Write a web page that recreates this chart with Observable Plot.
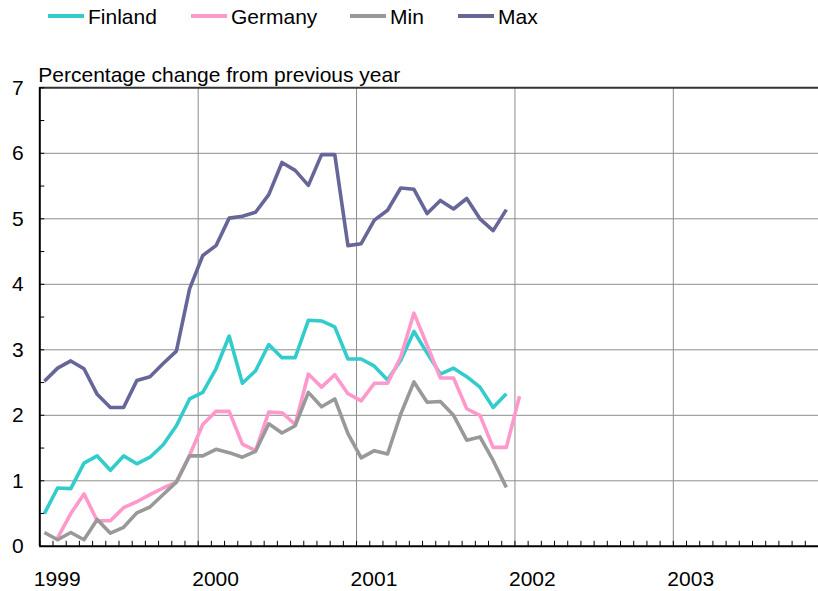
<!DOCTYPE html>
<html>
<head>
<meta charset="utf-8">
<script src="https://cdn.jsdelivr.net/npm/d3@7"></script>
<script src="https://cdn.jsdelivr.net/npm/@observablehq/plot@0.6"></script>
<style>
  body { margin: 0; background: #fff; font-family: "Liberation Sans", Arial, sans-serif; }
  #legend { position: relative; height: 36px; width: 818px; }
  .item { position: absolute; top: 0; height: 34px; display: flex; align-items: center; font-size: 21px; color: #000; white-space: nowrap; }
  .sw { width: 36px; height: 4px; margin-right: 4px; position: relative; top: -1px; }
  #chart svg { display: block; }
</style>
</head>
<body>
<div id="legend"></div>
<div id="chart"></div>
<script>
// ---- data (monthly, starting January 1999) ----
const series = ["Finland", "Germany", "Min", "Max"];
const colors = ["#33CCCC", "#FF99CC", "#999999", "#666699"];
const subtitle = "Percentage change from previous year";
const yearLabels = ["1999", "2000", "2001", "2002", "2003"];

const finland = [0.50, 0.89, 0.88, 1.27, 1.38, 1.16, 1.38, 1.26, 1.36, 1.55, 1.84, 2.25,
                 2.35, 2.71, 3.21, 2.49, 2.68, 3.08, 2.88, 2.88, 3.45, 3.44, 3.35, 2.86,
                 2.86, 2.75, 2.54, 2.84, 3.28, 2.95, 2.63, 2.72, 2.59, 2.43, 2.12, 2.33];
const germany = [null, 0.13, 0.50, 0.80, 0.39, 0.39, 0.59, 0.68, 0.79, 0.89, 0.98, 1.39,
                 1.86, 2.06, 2.06, 1.56, 1.46, 2.05, 2.04, 1.86, 2.63, 2.43, 2.62, 2.33,
                 2.22, 2.49, 2.49, 2.89, 3.56, 3.07, 2.57, 2.57, 2.10, 2.00, 1.51, 1.51,
                 2.29];
const minV    = [0.21, 0.10, 0.21, 0.10, 0.41, 0.20, 0.29, 0.51, 0.60, 0.79, 0.98, 1.38,
                 1.38, 1.48, 1.43, 1.36, 1.45, 1.87, 1.73, 1.84, 2.35, 2.13, 2.25, 1.72,
                 1.35, 1.46, 1.41, 2.02, 2.51, 2.20, 2.21, 2.00, 1.62, 1.67, 1.31, 0.90];
const maxV    = [2.52, 2.72, 2.83, 2.71, 2.32, 2.12, 2.12, 2.53, 2.59, 2.79, 2.98, 3.93,
                 4.44, 4.59, 5.01, 5.04, 5.10, 5.37, 5.86, 5.74, 5.51, 5.98, 5.98, 4.59,
                 4.62, 4.98, 5.13, 5.47, 5.45, 5.08, 5.28, 5.15, 5.31, 5.00, 4.82, 5.14];

const values = [finland, germany, minV, maxV];
const rows = [];
values.forEach((arr, s) => arr.forEach((v, i) => {
  if (v != null) rows.push({series: series[s], month: i, value: v});
}));

// ---- legend ----
const legend = document.getElementById("legend");
const legendLeft = [48, 191, 350, 458];
series.forEach((name, i) => {
  const it = document.createElement("div");
  it.className = "item";
  it.style.left = legendLeft[i] + "px";
  const sw = document.createElement("span");
  sw.className = "sw";
  sw.style.background = colors[i];
  it.appendChild(sw);
  it.appendChild(document.createTextNode(name));
  legend.appendChild(it);
});

// ---- chart ----
const W = 818, H = 555;
const mL = 39.3, mR = 0, mT = 51.3, mB = 45.2;
const plotW = W - mL - mR, plotH = H - mT - mB;
const lastMonth = 59;

const chart = Plot.plot({
  width: W, height: H,
  marginLeft: mL, marginRight: mR, marginTop: mT, marginBottom: mB,
  x: {type: "linear", domain: [0, lastMonth]},
  y: {domain: [0, 7]},
  color: {domain: series, range: colors},
  style: {fontFamily: "'Liberation Sans', Arial, sans-serif", fontSize: "21px", color: "#000", background: "#fff"},
  marks: [
    Plot.ruleY(d3.range(1, 7), {stroke: "#8c8c8c", strokeWidth: 1}),
    Plot.ruleX([12, 24, 36, 48], {stroke: "#8c8c8c", strokeWidth: 1}),
    Plot.ruleY([7], {stroke: "#333", strokeWidth: 2}),
    Plot.tickY(d3.range(0, 7.01, 0.5), {y: d => d, stroke: "#000", strokeWidth: 1, insetRight: plotW - 5}),
    Plot.tickX(d3.range(0, lastMonth + 1), {x: d => d, stroke: "#000", strokeWidth: 1, insetTop: plotH - 5}),
    Plot.line(rows, {x: "month", y: "value", z: "series", stroke: "series", strokeWidth: 3.6, dx: 4.6, strokeLinejoin: "round", strokeLinecap: "butt"}),
    Plot.ruleX([0], {stroke: "#000", strokeWidth: 2}),
    Plot.ruleY([0], {stroke: "#000", strokeWidth: 2}),
    Plot.axisY({ticks: d3.range(0, 8), tickSize: 0, tickPadding: 16, tickFormat: d => String(d), label: null, fontSize: 21}),
    Plot.axisX({ticks: [0, 12, 24, 36, 48], tickSize: 0, tickPadding: 24.5, tickFormat: d => yearLabels[Math.round(d / 12)], dx: 17.4, label: null, fontSize: 21}),
    Plot.text([subtitle], {text: d => d, frameAnchor: "top-left", textAnchor: "start", lineAnchor: "middle", dx: -1.5, dy: -13, fontSize: 21, fill: "#000"})
  ]
});
document.getElementById("chart").appendChild(chart);
</script>
</body>
</html>
